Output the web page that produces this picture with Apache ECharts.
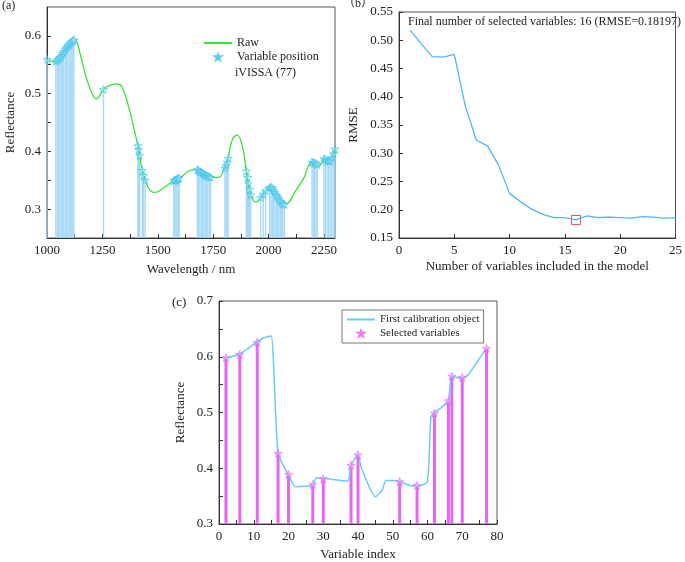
<!DOCTYPE html>
<html>
<head>
<meta charset="utf-8">
<script src="https://cdn.jsdelivr.net/npm/echarts@6/dist/echarts.min.js"></script>
<style>html,body{margin:0;padding:0;background:#fff}#c{width:685px;height:562px}</style>
</head>
<body>
<div id="c"></div>
<script>
// ---------- Panel (a): raw spectrum ----------
const specWl  = [1001,1029,1059,1089,1119,1128,1149,1180,1210,1225,1248,1270,1316,1338,1368,1399,1414,1429,1444,1466,1489,1527,1572,1602,1640,1670,1701,1738,1776,1799,1814,1837,1859,1882,1900,1919,1942,1965,1987,2014,2040,2070,2086,2123,2161,2191,2214,2229,2251,2274,2297,2300];
const specRef = [0.559,0.555,0.562,0.579,0.592,0.593,0.570,0.524,0.495,0.491,0.504,0.512,0.517,0.512,0.478,0.429,0.403,0.369,0.349,0.332,0.329,0.337,0.349,0.355,0.366,0.369,0.363,0.355,0.355,0.369,0.382,0.421,0.428,0.409,0.366,0.326,0.312,0.320,0.332,0.338,0.323,0.309,0.310,0.332,0.355,0.380,0.379,0.375,0.387,0.383,0.400,0.406];
// 77 selected variable positions (iVISSA)
const selWl  = [1001,
  1040,1046,1052,1058,1064,1070,1076,1082,1088,1094,1100,1106,1112,1117,1122,
  1255,
  1410,1414,1418,1430,1436,1443,
  1572,1577,1582,1587,1592,1597,
  1678,1684,1690,1696,1702,1708,1714,1720,1726,1732,1738,
  1803,1808,1813,1818,
  1900,1905,1910,1915,1920,
  1965,1976,1987,
  2005,2011,2017,2023,2029,2035,2041,2047,2053,2059,2065,2072,
  2196,2202,2208,2214,2220,
  2250,2257,2264,2271,2278,2285,2292,2299];
const selRef = [0.559,
  0.556,0.558,0.560,0.562,0.565,0.569,0.573,0.577,0.580,0.583,0.585,0.588,0.590,0.592,0.593,
  0.507,
  0.410,0.403,0.393,0.367,0.358,0.350,
  0.349,0.350,0.351,0.352,0.353,0.354,
  0.368,0.367,0.365,0.364,0.362,0.361,0.359,0.358,0.357,0.356,0.355,
  0.371,0.376,0.381,0.388,
  0.366,0.355,0.344,0.334,0.325,
  0.320,0.326,0.332,
  0.337,0.338,0.337,0.333,0.329,0.325,0.322,0.318,0.314,0.311,0.309,0.308,
  0.381,0.381,0.380,0.379,0.377,
  0.387,0.386,0.384,0.383,0.384,0.389,0.396,0.404];

// ---------- Panel (b): RMSE vs number of variables ----------
const nVars = [1,2,3,4,5,6,7,8,9,10,11,12,13,14,15,16,17,18,19,20,21,22,23,24,25];
const rmse  = [0.518,0.494,0.471,0.470,0.475,0.383,0.323,0.313,0.279,0.229,0.214,0.201,0.192,0.186,0.186,0.18197,0.189,0.186,0.187,0.186,0.185,0.188,0.187,0.185,0.186];
const bestN = 16;

// ---------- Panel (c): first calibration object ----------
const cIdx = [1,2,4,6,8,11,13,15,17,20,22,27,28,30,37,38,40,41,45,47,48,50,52,55,57,58,60,61,62,64,66,67,69,70,71,72,77];
const cRef = [0.598,0.598,0.601,0.605,0.613,0.627,0.634,0.637,0.427,0.388,0.367,0.370,0.383,0.382,0.377,0.405,0.424,0.400,0.349,0.361,0.378,0.378,0.376,0.369,0.368,0.369,0.376,0.493,0.500,0.509,0.521,0.565,0.562,0.562,0.564,0.570,0.616];
const cSelIdx = [2,6,11,17,20,27,30,38,40,52,57,62,66,67,70,77];
const cSelRef = [0.598,0.604,0.626,0.427,0.389,0.371,0.381,0.405,0.424,0.376,0.369,0.499,0.521,0.565,0.563,0.615];

const FONT = 'Liberation Serif';
const STAR = 'path://M12,1 L14.9,8.8 L23,8.8 L16.5,13.7 L18.9,21.6 L12,16.9 L5.1,21.6 L7.5,13.7 L1,8.8 L9.1,8.8 Z';
const zip = (a, b) => a.map((v, i) => [v, b[i]]);

function axisCommon(extra) {
  return Object.assign({
    type: 'value',
    axisLine: { show: true, lineStyle: { color: '#333', width: 1 } },
    axisTick: { show: true, inside: true, length: 4, lineStyle: { color: '#333' } },
    splitLine: { show: false },
    axisLabel: { fontFamily: FONT, fontSize: 13, color: '#222', margin: 6 },
    nameLocation: 'middle',
    nameTextStyle: { fontFamily: FONT, fontSize: 13, color: '#222' }
  }, extra);
}
const gridBox = { show: true, borderColor: '#555', borderWidth: 1, backgroundColor: 'transparent', containLabel: false };
const hideSym = { opacity: 0 };

const chart = echarts.init(document.getElementById('c'), null, { renderer: 'canvas' });
chart.setOption({
  animation: false,
  backgroundColor: '#fff',
  grid: [
    Object.assign({ left: 47, top: 7, right: 350, bottom: 324 }, gridBox),
    Object.assign({ left: 399, top: 12, right: 6, bottom: 324 }, gridBox),
    Object.assign({ left: 219, top: 301, right: 188, bottom: 36 }, gridBox)
  ],
  xAxis: [
    axisCommon({ gridIndex: 0, min: 1000, max: 2300, interval: 125, name: 'Wavelength / nm', nameGap: 25,
      axisLabel: { fontFamily: FONT, fontSize: 13, color: '#222', margin: 6, showMaxLabel: false,
        formatter: v => (Math.round(v) % 250 === 0 ? String(Math.round(v)) : '') } }),
    axisCommon({ gridIndex: 1, min: 0, max: 25, interval: 5, name: 'Number of variables included in the model', nameGap: 22 }),
    axisCommon({ gridIndex: 2, min: 0, max: 80, interval: 5, name: 'Variable index', nameGap: 24,
      axisLabel: { fontFamily: FONT, fontSize: 13, color: '#222', margin: 6,
        formatter: v => (Math.round(v) % 10 === 0 ? String(Math.round(v)) : '') } })
  ],
  yAxis: [
    axisCommon({ gridIndex: 0, min: 0.25, max: 0.65, interval: 0.05, name: 'Reflectance', nameGap: 30,
      axisLabel: { fontFamily: FONT, fontSize: 13, color: '#222', margin: 6, showMaxLabel: false,
        formatter: v => (Math.round(v * 100) % 10 === 0 ? v.toFixed(1) : '') } }),
    axisCommon({ gridIndex: 1, min: 0.15, max: 0.55, interval: 0.05, name: 'RMSE', nameGap: 39,
      axisLabel: { fontFamily: FONT, fontSize: 13, color: '#222', margin: 6, formatter: v => v.toFixed(2) } }),
    axisCommon({ gridIndex: 2, min: 0.3, max: 0.7, interval: 0.05, name: 'Reflectance', nameGap: 32,
      axisLabel: { fontFamily: FONT, fontSize: 13, color: '#222', margin: 6,
        formatter: v => (Math.round(v * 100) % 10 === 0 ? v.toFixed(1) : '') } })
  ],
  legend: [
    { orient: 'vertical', left: 203, top: 37, padding: 0, itemWidth: 28, itemHeight: 6, itemGap: 3, itemGap: 2,
      data: [{ name: 'Raw', itemStyle: hideSym }, { name: 'Variable position' }],
      textStyle: { fontFamily: FONT, fontSize: 12, color: '#222' } },
    { orient: 'vertical', left: 342, top: 310, itemWidth: 28, itemHeight: 6, itemGap: 3,
      padding: [4, 4, 4, 4], borderColor: '#777', borderWidth: 1,
      data: [{ name: 'First calibration object', itemStyle: hideSym }, { name: 'Selected variables' }],
      textStyle: { fontFamily: FONT, fontSize: 11, color: '#222' } }
  ],
  graphic: [
    { type: 'text', left: 2, top: 0, style: { text: '(a)', font: '12px "Liberation Serif"', fill: '#222' } },
    { type: 'text', left: 343, top: -2, style: { text: '（b）', font: '12px "Liberation Serif", "Noto Sans CJK SC"', fill: '#222' } },
    { type: 'text', left: 172, top: 296, style: { text: '(c)', font: '13px "Liberation Serif"', fill: '#222' } },
    { type: 'text', left: 235, top: 67, style: { text: 'iVISSA (77)', font: '12px "Liberation Serif"', fill: '#222' } },
    { type: 'text', left: 408, top: 16, style: { text: 'Final number of selected variables: 16 (RMSE=0.18197)', font: '12px "Liberation Serif"', fill: '#222' } }
  ],
  series: [
    // (a)
    { name: 'stems-a', type: 'bar', xAxisIndex: 0, yAxisIndex: 0, barWidth: 1.3, silent: true,
      itemStyle: { color: 'rgba(150,210,245,0.85)' }, data: zip(selWl, selRef), z: 1 },
    { name: 'Raw', type: 'line', xAxisIndex: 0, yAxisIndex: 0, smooth: 0.4, symbol: 'none', showSymbol: false,
      lineStyle: { color: '#33e633', width: 1.3 }, itemStyle: { color: '#33e633' }, data: zip(specWl, specRef), z: 3 },
    { name: 'Variable position', type: 'scatter', xAxisIndex: 0, yAxisIndex: 0, symbol: STAR, symbolSize: 8,
      itemStyle: { color: 'rgba(170,230,255,0.5)', borderColor: '#38c0ee', borderWidth: 0.8 },
      data: zip(selWl, selRef), z: 4 },
    // (b)
    { name: 'RMSE', type: 'line', xAxisIndex: 1, yAxisIndex: 1, symbol: 'none', showSymbol: false,
      lineStyle: { color: '#4db8f0', width: 1.3 }, data: zip(nVars, rmse) },
    { name: 'best', type: 'scatter', xAxisIndex: 1, yAxisIndex: 1, symbol: 'rect', symbolSize: 9,
      itemStyle: { color: 'rgba(0,0,0,0)', borderColor: '#e8231f', borderWidth: 1 },
      data: [[bestN, rmse[nVars.indexOf(bestN)]]] },
    // (c)
    { name: 'stems-c', type: 'bar', xAxisIndex: 2, yAxisIndex: 2, barWidth: 3, silent: true,
      itemStyle: { color: '#e466f2' }, data: zip(cSelIdx, cSelRef), z: 1 },
    { name: 'First calibration object', type: 'line', xAxisIndex: 2, yAxisIndex: 2, symbol: 'none', showSymbol: false,
      smooth: 0.2, lineStyle: { color: '#66ccf5', width: 1.5 }, itemStyle: { color: '#66ccf5' },
      data: zip(cIdx, cRef), z: 3 },
    { name: 'Selected variables', type: 'scatter', xAxisIndex: 2, yAxisIndex: 2, symbol: STAR, symbolSize: 8,
      itemStyle: { color: 'rgba(245,150,245,0.6)', borderColor: '#e862f0', borderWidth: 0.8 },
      data: zip(cSelIdx, cSelRef), z: 4 }
  ]
});
</script>
</body>
</html>
